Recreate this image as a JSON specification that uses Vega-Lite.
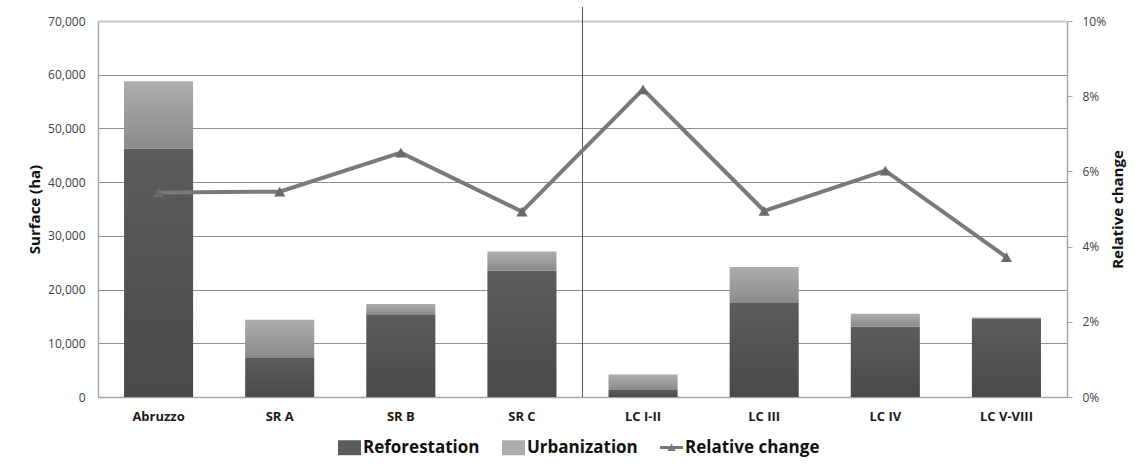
{
  "$schema": "https://vega.github.io/schema/vega-lite/v6.json",
  "width": 969,
  "height": 376,
  "autosize": {"type": "none"},
  "padding": {"left": 98, "top": 21, "right": 68, "bottom": 71},
  "background": "white",
  "config": {
    "font": "Open Sans",
    "view": {"stroke": null},
    "axis": {
      "labelFont": "Open Sans",
      "titleFont": "Open Sans",
      "labelColor": "#404040",
      "titleColor": "#111111",
      "titleFontSize": 15,
      "titleFontWeight": "bold",
      "domainColor": "#a6a6a6",
      "domainWidth": 1.5
    },
    "axisX": {
      "labelAngle": 0,
      "labelFontWeight": "bold",
      "labelFontSize": 13,
      "labelColor": "#1a1a1a",
      "labelPadding": 13,
      "ticks": false,
      "grid": false
    },
    "axisLeft": {
      "labelFontSize": 12,
      "labelPadding": 13,
      "ticks": false,
      "grid": true,
      "labelExpr": "format(datum.value, ',')",
      "titlePadding": 5
    },
    "axisRight": {
      "labelFontSize": 12,
      "labelPadding": 10,
      "tickSize": 5,
      "tickColor": "#a6a6a6",
      "grid": false,
      "labelExpr": "format(datum.value, '.0%')",
      "titleAngle": 270,
      "titlePadding": 20
    },
    "legend": {"labelFont": "Open Sans", "labelFontSize": 17, "labelFontWeight": "bold", "labelColor": "#111111", "labelOffset": 2, "symbolSize": 529, "symbolStrokeWidth": 0, "columnPadding": 22}
  },
  "data": {
    "values": [
      {"region": "Abruzzo", "Reforestation": 46200, "Urbanization": 12600, "change": 0.0544},
      {"region": "SR A", "Reforestation": 7400, "Urbanization": 7000, "change": 0.0546},
      {"region": "SR B", "Reforestation": 15400, "Urbanization": 1900, "change": 0.065},
      {"region": "SR C", "Reforestation": 23500, "Urbanization": 3600, "change": 0.0493},
      {"region": "LC I-II", "Reforestation": 1300, "Urbanization": 2900, "change": 0.0818},
      {"region": "LC III", "Reforestation": 17500, "Urbanization": 6700, "change": 0.0495},
      {"region": "LC IV", "Reforestation": 13100, "Urbanization": 2400, "change": 0.0602},
      {"region": "LC V-VIII", "Reforestation": 14500, "Urbanization": 300, "change": 0.0372}
    ]
  },
  "layer": [
    {
      "layer": [
        {
          "transform": [{"fold": ["Reforestation", "Urbanization"], "as": ["series", "area"]}],
          "mark": {"type": "bar"},
          "encoding": {
            "x": {
              "field": "region",
              "type": "nominal",
              "sort": null,
              "scale": {
                "domain": ["Abruzzo", "SR A", "SR B", "SR C", "LC I-II", "LC III", "LC IV", "LC V-VIII"],
                "paddingInner": 0.43,
                "paddingOuter": 0.215
              },
              "axis": {"title": null}
            },
            "y": {
              "field": "area",
              "type": "quantitative",
              "stack": "zero",
              "scale": {"domain": [0, 70000]},
              "axis": {
                "title": "Surface (ha)",
                "values": [0, 10000, 20000, 30000, 40000, 50000, 60000, 70000],
                "gridColor": {"condition": {"test": "datum.value === 70000", "value": "#c8c8c8"}, "value": "#8e8e8e"},
                "gridWidth": {"condition": {"test": "datum.value === 70000", "value": 2}, "value": 1}
              }
            },
            "color": {
              "field": "series",
              "type": "nominal",
              "scale": {
                "domain": ["Reforestation", "Urbanization"],
                "range": ["#5c5c5c", "#adadad"]
              },
              "legend": {
                "title": null,
                "orient": "none",
                "direction": "horizontal",
                "legendX": 240,
                "legendY": 415,
                "symbolType": "M-1,-0.65H1V0.65H-1Z"
              }
            },
            "order": {"field": "series", "sort": "ascending"}
          }
        },
        {
          "transform": [{"fold": ["Reforestation", "Urbanization"], "as": ["series", "area"]}],
          "mark": {
            "type": "bar",
            "fill": {
              "gradient": "linear",
              "x1": 0, "y1": 0, "x2": 0, "y2": 1,
              "stops": [
                {"offset": 0, "color": "rgba(0,0,0,0)"},
                {"offset": 1, "color": "rgba(0,0,0,0.2)"}
              ]
            }
          },
          "encoding": {
            "x": {"field": "region", "type": "nominal", "sort": null, "axis": {"title": null}},
            "y": {
              "field": "area",
              "type": "quantitative",
              "stack": "zero",
              "axis": {
                "title": "Surface (ha)",
                "values": [0, 10000, 20000, 30000, 40000, 50000, 60000, 70000],
                "gridColor": {"condition": {"test": "datum.value === 70000", "value": "#c8c8c8"}, "value": "#8e8e8e"},
                "gridWidth": {"condition": {"test": "datum.value === 70000", "value": 2}, "value": 1}
              }
            },
            "detail": {"field": "series"},
            "order": {"field": "series", "sort": "ascending"}
          }
        },
        {
          "data": {"values": [{"divider": "regions | land capability"}]},
          "mark": {"type": "rule", "color": "#555555", "strokeWidth": 1},
          "encoding": {
            "x": {"datum": "LC I-II", "bandPosition": -0.3772, "axis": {"title": null}},
            "y": {
              "datum": 72600,
              "axis": {
                "title": "Surface (ha)",
                "values": [0, 10000, 20000, 30000, 40000, 50000, 60000, 70000],
                "gridColor": {"condition": {"test": "datum.value === 70000", "value": "#c8c8c8"}, "value": "#8e8e8e"},
                "gridWidth": {"condition": {"test": "datum.value === 70000", "value": 2}, "value": 1}
              }
            },
            "y2": {"datum": 0}
          }
        }
      ]
    },
    {
      "layer": [
        {
          "mark": {"type": "line", "color": "#7a7a7a", "strokeWidth": 4},
          "encoding": {
            "x": {"field": "region", "type": "nominal", "sort": null, "axis": {"title": null}},
            "y": {
              "field": "change",
              "type": "quantitative",
              "scale": {"domain": [0, 0.1]},
              "axis": {"orient": "right", "title": "Relative change", "values": [0, 0.02, 0.04, 0.06, 0.08, 0.1]}
            }
          }
        },
        {
          "mark": {"type": "point", "shape": "triangle-up", "filled": true, "size": 125, "color": "#6a6a6a", "opacity": 1},
          "encoding": {
            "x": {"field": "region", "type": "nominal", "sort": null, "axis": {"title": null}},
            "y": {
              "field": "change",
              "type": "quantitative",
              "axis": {"orient": "right", "title": "Relative change", "values": [0, 0.02, 0.04, 0.06, 0.08, 0.1]}
            }
          }
        },
        {
          "mark": {"type": "point", "filled": true, "color": "#777777", "opacity": 0},
          "encoding": {
            "x": {"field": "region", "type": "nominal", "sort": null, "axis": {"title": null}},
            "y": {
              "field": "change",
              "type": "quantitative",
              "axis": {"orient": "right", "title": "Relative change", "values": [0, 0.02, 0.04, 0.06, 0.08, 0.1]}
            },
            "shape": {
              "datum": "Relative change",
              "type": "nominal",
              "scale": {"domain": ["Relative change"], "range": ["M-1,-0.13H1V0.13H-1Z M-0.36,0.3L0,-0.34L0.36,0.3Z"]},
              "legend": {
                "title": null,
                "orient": "none",
                "direction": "horizontal",
                "legendX": 562,
                "legendY": 415,
                "symbolOpacity": 1,
                "symbolFillColor": "#777777"
              }
            }
          }
        }
      ]
    }
  ],
  "resolve": {"scale": {"y": "independent"}}
}
